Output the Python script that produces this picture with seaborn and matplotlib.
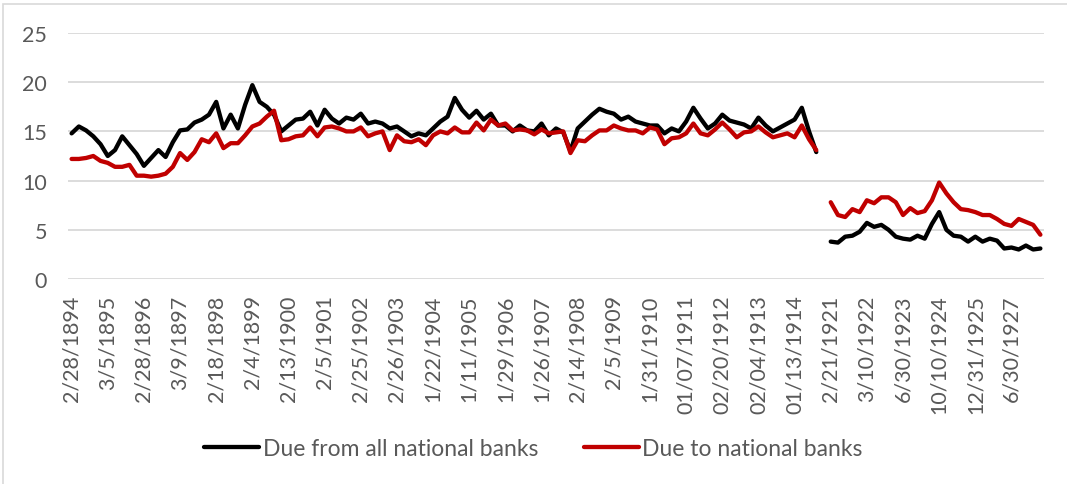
import numpy as np
import pandas as pd
import matplotlib
matplotlib.use("Agg")
import matplotlib.pyplot as plt
from matplotlib.lines import Line2D
from matplotlib.patches import Rectangle
import seaborn as sns

# ── data (percent) ───────────────────────────────────────────────────────────
due_from_1894_1914 = [
    14.8, 15.5, 15.1, 14.5, 13.7, 12.5, 13.1, 14.5, 13.6, 12.7,
    11.5, 12.3, 13.1, 12.4, 13.9, 15.1, 15.2, 15.9, 16.2, 16.7,
    18.0, 15.3, 16.7, 15.3, 17.7, 19.7, 18.0, 17.5, 16.7, 15.0,
    15.6, 16.2, 16.3, 17.0, 15.6, 17.2, 16.3, 15.8, 16.4, 16.2,
    16.8, 15.8, 16.0, 15.8, 15.3, 15.5, 15.0, 14.5, 14.8, 14.6,
    15.3, 16.0, 16.5, 18.4, 17.2, 16.4, 17.1, 16.2, 16.8, 15.6,
    15.6, 15.0, 15.6, 15.1, 15.0, 15.8, 14.6, 15.3, 14.9, 13.0,
    15.3, 16.0, 16.7, 17.3, 17.0, 16.8, 16.2, 16.5, 16.0, 15.8,
    15.6, 15.6, 14.8, 15.3, 15.0, 16.0, 17.4, 16.3, 15.3, 15.8,
    16.7, 16.1, 15.9, 15.7, 15.3, 16.4, 15.6, 15.0, 15.4, 15.8,
    16.2, 17.4, 15.0, 12.9,
]
due_to_1894_1914 = [
    12.2, 12.2, 12.3, 12.5, 12.0, 11.8, 11.4, 11.4, 11.6, 10.5,
    10.5, 10.4, 10.5, 10.7, 11.4, 12.8, 12.1, 12.9, 14.2, 13.9,
    14.8, 13.3, 13.8, 13.8, 14.6, 15.5, 15.8, 16.5, 17.1, 14.1,
    14.2, 14.5, 14.6, 15.4, 14.5, 15.4, 15.5, 15.3, 15.0, 15.0,
    15.4, 14.5, 14.8, 15.0, 13.1, 14.6, 14.0, 13.9, 14.2, 13.6,
    14.6, 15.0, 14.8, 15.4, 14.9, 14.9, 15.9, 15.1, 16.2, 15.6,
    15.8, 15.1, 15.2, 15.1, 14.7, 15.2, 14.8, 14.9, 15.0, 12.8,
    14.1, 14.0, 14.6, 15.1, 15.1, 15.6, 15.3, 15.1, 15.1, 14.8,
    15.4, 15.2, 13.7, 14.3, 14.4, 14.8, 15.8, 14.8, 14.6, 15.2,
    15.9, 15.2, 14.4, 14.9, 15.0, 15.5, 14.9, 14.4, 14.6, 14.8,
    14.4, 15.6, 14.2, 13.1,
]
due_from_1921_1927 = [
    3.8, 3.7, 4.3, 4.4, 4.8, 5.7, 5.3, 5.5, 5.0, 4.3,
    4.1, 4.0, 4.4, 4.1, 5.6, 6.8, 5.0, 4.4, 4.3, 3.8,
    4.3, 3.8, 4.1, 3.9, 3.1, 3.2, 3.0, 3.4, 3.0, 3.1,
]
due_to_1921_1927 = [
    7.8, 6.5, 6.3, 7.1, 6.8, 8.0, 7.7, 8.3, 8.3, 7.8,
    6.5, 7.2, 6.7, 6.9, 8.0, 9.8, 8.7, 7.8, 7.1, 7.0,
    6.8, 6.5, 6.5, 6.1, 5.6, 5.4, 6.1, 5.8, 5.5, 4.5,
]
gap_categories = 1          # one empty call date between 1914 and 1921
label_every = 5

tick_labels = [
    "2/28/1894", "3/5/1895", "2/28/1896", "3/9/1897", "2/18/1898",
    "2/4/1899", "2/13/1900", "2/5/1901", "2/25/1902", "2/26/1903",
    "1/22/1904", "1/11/1905", "1/29/1906", "1/26/1907", "2/14/1908",
    "2/5/1909", "1/31/1910", "01/07/1911", "02/20/1912", "02/04/1913",
    "01/13/1914", "2/21/1921", "3/10/1922", "6/30/1923", "10/10/1924",
    "12/31/1925", "6/30/1927",
]

SERIES = ["Due from all national banks", "Due to national banks"]
COLORS = {SERIES[0]: "#000000", SERIES[1]: "#C00000"}
TEXT = "#595959"
GRID = "#D9D9D9"

# ── long table for seaborn ────────────────────────────────────────────────────
n_pre = len(due_from_1894_1914)
post_start = n_pre + gap_categories
n_total = post_start + len(due_from_1921_1927)

rows = []
for name, pre, post in [(SERIES[0], due_from_1894_1914, due_from_1921_1927),
                        (SERIES[1], due_to_1894_1914, due_to_1921_1927)]:
    for i, v in enumerate(pre):
        rows.append((name, "pre", i, v))
    for i, v in enumerate(post):
        rows.append((name, "post", post_start + i, v))
df = pd.DataFrame(rows, columns=["series", "period", "pos", "value"])

# ── plot ──────────────────────────────────────────────────────────────────────
sns.set_style("white")
plt.rcParams["font.family"] = ["Lato", "DejaVu Sans"]

fig = plt.figure(figsize=(10.67, 4.85), dpi=100)
ax = fig.add_axes([68 / 1067, 1 - 280 / 485, (1044 - 68) / 1067, (280 - 34) / 485])

sns.lineplot(data=df, x="pos", y="value", hue="series", units="period",
             estimator=None, sort=False, palette=COLORS, linewidth=3.1,
             legend=False, ax=ax)
for ln in ax.lines:
    ln.set_solid_joinstyle("round")

ax.set_xlim(-0.5, n_total - 0.5)
ax.set_ylim(0, 25)
ax.set_yticks(np.arange(0, 26, 5))
ax.set_xticks(np.arange(0, n_total, label_every))
ax.set_xticklabels(tick_labels, rotation=90, ha="center", va="top")
ax.set_xlabel("")
ax.set_ylabel("")
ax.grid(axis="y", color=GRID, linewidth=1.3)
ax.grid(axis="x", visible=False)
ax.set_axisbelow(True)
for s in ax.spines.values():
    s.set_visible(False)
ax.tick_params(axis="x", length=0, pad=11, labelsize=15.5, labelcolor=TEXT)
ax.tick_params(axis="y", length=0, pad=15, labelsize=15.5, labelcolor=TEXT)

handles = [Line2D([], [], color=COLORS[s], lw=3.1, solid_capstyle="round") for s in SERIES]
fig.legend(handles, SERIES, loc="center", bbox_to_anchor=(0.5, 1 - 450 / 485),
           ncol=2, frameon=False, fontsize=16.5, labelcolor=TEXT,
           handlelength=2.4, handletextpad=0.15, columnspacing=2.0)

# chart frame (light border, Excel style)
fig.patches.append(Rectangle((3 / 1067, -0.1), 1.2, 1 - 5 / 485 + 0.1,
                             transform=fig.transFigure, fill=False,
                             edgecolor=GRID, linewidth=1.2))

fig.savefig("out.png", dpi=100)
